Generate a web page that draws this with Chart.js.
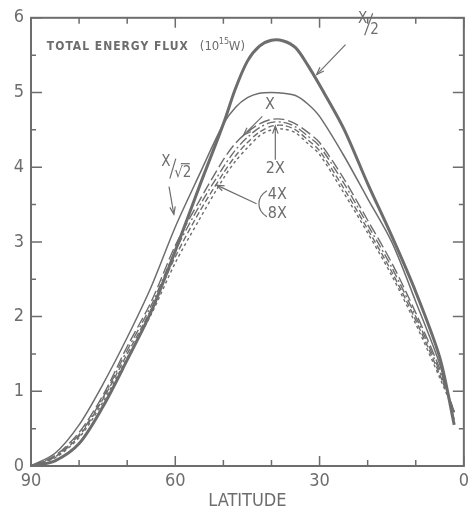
<!DOCTYPE html>
<html>
<head>
<meta charset="utf-8">
<script src="https://cdn.jsdelivr.net/npm/chart.js@4/dist/chart.umd.min.js"></script>
<style>
  html, body { margin: 0; padding: 0; background: #fff; }
  #wrap { width: 474px; height: 513px; }
</style>
</head>
<body>
<div id="wrap"><canvas id="grafica" width="474" height="513"></canvas></div>
<script>
// latitud (grados) y flujo total de energia (10^15 W) para cada caso
const latitudes = [90, 85, 80, 75, 70, 65, 60, 55, 50, 47.5, 45, 42.5, 40, 37.5, 35, 32.5, 30, 25, 20, 15, 10, 5, 2];
const fluxHalf  = [0, 0.07, 0.3, 0.8, 1.42, 2.07, 2.88, 3.74, 4.58, 5.05, 5.42, 5.62, 5.7, 5.69, 5.6, 5.37, 5.1, 4.52, 3.78, 3.08, 2.33, 1.45, 0.55];
const fluxRoot2 = [0, 0.17, 0.55, 1.1, 1.72, 2.4, 3.2, 3.9, 4.58, 4.8, 4.93, 4.99, 5.0, 4.99, 4.96, 4.85, 4.68, 4.16, 3.58, 3.0, 2.2, 1.36, 0.62];
const fluxX     = [0, 0.14, 0.45, 0.95, 1.6, 2.2, 2.95, 3.55, 4.1, 4.32, 4.47, 4.58, 4.64, 4.64, 4.58, 4.47, 4.33, 3.85, 3.29, 2.72, 2.05, 1.3, 0.72];
const flux2X    = [0, 0.13, 0.42, 0.92, 1.55, 2.15, 2.88, 3.48, 4.0, 4.23, 4.4, 4.53, 4.6, 4.6, 4.54, 4.42, 4.28, 3.79, 3.23, 2.66, 2.0, 1.26, 0.72];
const flux4X    = [0, 0.12, 0.4, 0.9, 1.5, 2.1, 2.8, 3.4, 3.92, 4.15, 4.33, 4.47, 4.55, 4.56, 4.5, 4.37, 4.22, 3.72, 3.17, 2.6, 1.95, 1.22, 0.72];
const flux8X    = [0, 0.11, 0.38, 0.86, 1.45, 2.03, 2.72, 3.3, 3.85, 4.08, 4.26, 4.42, 4.5, 4.51, 4.46, 4.32, 4.17, 3.66, 3.12, 2.55, 1.9, 1.18, 0.72];
const xTickLabels = [90, 60, 30, 0];
const yTickLabels = [0, 1, 2, 3, 4, 5, 6];

const INK = "#6d6d6d";
const NARROW = "'DejaVu Sans Condensed', 'Liberation Sans Narrow', sans-serif";

function puntos(valores) {
  return latitudes.map((lat, i) => ({ x: lat, y: valores[i] }));
}

function serie(label, valores, width, dash) {
  return {
    label,
    data: puntos(valores),
    borderColor: INK,
    borderWidth: width,
    borderDash: dash,
    pointRadius: 0,
    showLine: true,
    fill: false,
    tension: 0.3
  };
}

// flechas en coordenadas de datos (latitud, flujo)
const flechas = [
  { from: [24.6, 5.64], to: [30.6, 5.24] },   // X/2
  { from: [61.3, 3.74], to: [60.3, 3.37] },   // X/sqrt2
  { from: [41.9, 4.68], to: [45.8, 4.43] },   // X
  { from: [39.2, 4.10], to: [39.2, 4.55] },   // 2X
  { from: [43.1, 3.51], to: [51.4, 3.76] }    // 4X, 8X
];

function flecha(ctx, x0, y0, x1, y1) {
  ctx.beginPath();
  ctx.moveTo(x0, y0);
  ctx.lineTo(x1, y1);
  ctx.stroke();
  const ang = Math.atan2(y1 - y0, x1 - x0);
  const L = 8;
  ctx.beginPath();
  ctx.moveTo(x1 - L * Math.cos(ang - 0.35), y1 - L * Math.sin(ang - 0.35));
  ctx.lineTo(x1, y1);
  ctx.lineTo(x1 - L * Math.cos(ang + 0.35), y1 - L * Math.sin(ang + 0.35));
  ctx.stroke();
}

const decoraciones = {
  id: "decoraciones",
  afterDraw(chart) {
    const { ctx, chartArea: a, scales: { x, y } } = chart;
    ctx.save();
    ctx.strokeStyle = INK;
    ctx.fillStyle = INK;
    ctx.lineWidth = 2;
    ctx.strokeRect(a.left, a.top, a.right - a.left, a.bottom - a.top);

    // marcas hacia adentro en los cuatro lados
    ctx.lineWidth = 1.5;
    ctx.beginPath();
    for (let v = 0; v <= 90; v += 10) {
      const px = x.getPixelForValue(v);
      const len = v % 30 === 0 ? 10 : 6;
      ctx.moveTo(px, a.bottom); ctx.lineTo(px, a.bottom - len);
      ctx.moveTo(px, a.top); ctx.lineTo(px, a.top + len);
    }
    for (let v = 0; v <= 6; v += 0.5) {
      const py = y.getPixelForValue(v);
      const len = v % 1 === 0 ? 11 : 5;
      ctx.moveTo(a.left, py); ctx.lineTo(a.left + len, py);
      ctx.moveTo(a.right, py); ctx.lineTo(a.right - len, py);
    }
    ctx.stroke();

    // titulo interno
    ctx.textBaseline = "alphabetic";
    ctx.textAlign = "left";
    const tx = x.getPixelForValue(86.7), ty = y.getPixelForValue(5.57);
    ctx.font = "bold 12px 'DejaVu Sans Condensed', sans-serif";
    ctx.letterSpacing = "1px";
    ctx.fillText("TOTAL ENERGY FLUX", tx, ty, 142);
    ctx.letterSpacing = "0px";
    ctx.font = "13px 'DejaVu Sans Condensed', sans-serif";
    ctx.fillText("(10", tx + 153, ty);
    ctx.font = "9px 'DejaVu Sans Condensed', sans-serif";
    ctx.fillText("15", tx + 172, ty - 6);
    ctx.font = "13px 'DejaVu Sans Condensed', sans-serif";
    ctx.fillText("W)", tx + 182, ty);

    // flechas
    ctx.lineWidth = 1.2;
    flechas.forEach(f => {
      flecha(ctx, x.getPixelForValue(f.from[0]), y.getPixelForValue(f.from[1]),
                  x.getPixelForValue(f.to[0]), y.getPixelForValue(f.to[1]));
    });

    // etiquetas de las curvas
    ctx.textAlign = "center";
    ctx.textBaseline = "middle";
    const etiqueta = (txt, lat, val, size) => {
      ctx.font = size + "px " + NARROW;
      ctx.fillText(txt, x.getPixelForValue(lat), y.getPixelForValue(val));
    };
    // X/2
    let px = x.getPixelForValue(20.0), py = y.getPixelForValue(5.9);
    ctx.font = "15px " + NARROW;
    ctx.fillText("X", px - 5, py - 6);
    ctx.fillText("2", px + 7, py + 5);
    ctx.beginPath(); ctx.moveTo(px - 3, py + 10); ctx.lineTo(px + 5, py - 12); ctx.stroke();
    // X/sqrt2
    px = x.getPixelForValue(60.1); py = y.getPixelForValue(3.98);
    ctx.fillText("X", px - 9, py - 7);
    ctx.beginPath(); ctx.moveTo(px - 5, py + 10); ctx.lineTo(px + 1, py - 10); ctx.stroke();
    ctx.fillText("\u221A2", px + 8, py + 4);
    ctx.beginPath(); ctx.moveTo(px + 6, py - 5); ctx.lineTo(px + 15, py - 5); ctx.stroke();

    etiqueta("X", 40.3, 4.83, 16);
    etiqueta("2X", 39.2, 3.98, 16);
    etiqueta("4X", 38.8, 3.63, 16);
    etiqueta("8X", 38.8, 3.38, 16);
    // llave de 4X / 8X
    px = x.getPixelForValue(42.2); py = y.getPixelForValue(3.51);
    ctx.beginPath();
    ctx.moveTo(px + 6, py - 13);
    ctx.quadraticCurveTo(px - 2, py - 8, px - 2, py);
    ctx.quadraticCurveTo(px - 2, py + 8, px + 6, py + 13);
    ctx.stroke();
    ctx.restore();
  }
};

const ctx = document.getElementById("grafica").getContext("2d");
new Chart(ctx, {
  type: "scatter",
  data: {
    datasets: [
      serie("X/2", fluxHalf, 3, []),
      serie("X/\u221A2", fluxRoot2, 1.5, []),
      serie("X", fluxX, 1.4, [11, 4]),
      serie("2X", flux2X, 1.4, [9, 3, 2, 3]),
      serie("4X", flux4X, 1.4, [6, 3]),
      serie("8X", flux8X, 1.4, [3, 3])
    ]
  },
  options: {
    responsive: false,
    animation: false,
    events: [],
    layout: { padding: { left: 0, right: 7, top: 13, bottom: 0 } },
    plugins: {
      legend: { display: false },
      tooltip: { enabled: false }
    },
    scales: {
      x: {
        type: "linear",
        reverse: true,
        min: 0,
        max: 90,
        afterFit: s => { s.height = 47; },
        afterBuildTicks: s => { s.ticks = xTickLabels.map(v => ({ value: v })); },
        ticks: { color: INK, padding: 5, font: { family: NARROW, size: 18 }, maxRotation: 0 },
        grid: { display: false, drawTicks: false },
        border: { display: false },
        title: { display: true, text: "LATITUDE", color: INK, font: { family: NARROW, size: 18 }, padding: { top: 0, bottom: 1 } }
      },
      y: {
        min: 0,
        max: 6,
        afterFit: s => { s.width = 31; },
        afterBuildTicks: s => { s.ticks = yTickLabels.map(v => ({ value: v })); },
        ticks: { color: INK, padding: 7, font: { family: NARROW, size: 18 } },
        grid: { display: false, drawTicks: false },
        border: { display: false }
      }
    }
  },
  plugins: [decoraciones]
});
</script>
</body>
</html>
